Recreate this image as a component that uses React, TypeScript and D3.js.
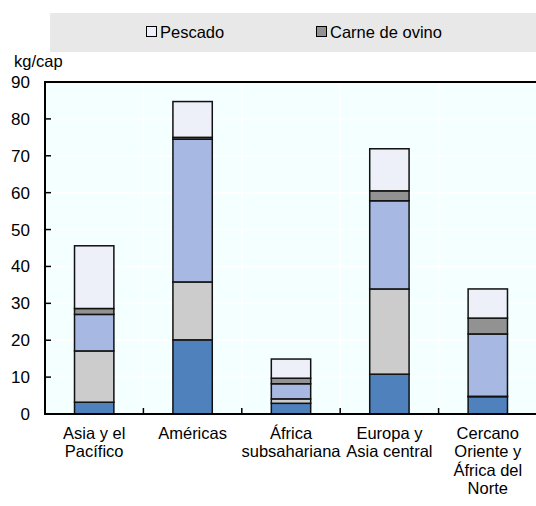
import React from 'react';
import * as d3 from 'd3';

// Regions (x-axis categories), label lines split for wrapping
const regions = ['Asia y el Pacífico', 'Américas', 'África subsahariana', 'Europa y Asia central', 'Cercano Oriente y África del Norte'];
const regionLines = [
  ['Asia y el', 'Pacífico'],
  ['Américas'],
  ['África', 'subsahariana'],
  ['Europa y', 'Asia central'],
  ['Cercano', 'Oriente y', 'África del', 'Norte'],
];

// kg per capita (bottom to top)
const bovino = [3.2, 20.1, 2.9, 10.8, 4.7];
const porcino = [13.9, 15.7, 1.2, 23.1, 0.1];
const aves = [9.9, 38.7, 4.1, 23.9, 16.9];
const ovino = [1.6, 0.5, 1.5, 2.7, 4.3];
const pescado = [17.0, 9.7, 5.2, 11.4, 7.9];

const seriesNames = ['Carne de bovino', 'Carne de porcino', 'Carne de aves', 'Carne de ovino', 'Pescado'];
const seriesColors = ['#4f81bd', '#cccccc', '#a7b9e2', '#929292', '#edf0f8'];
const legendItems = ['Pescado', 'Carne de ovino'];

const yTicks = [0, 10, 20, 30, 40, 50, 60, 70, 80, 90];

const width = 536;
const height = 506;
const left = 45;
const right = 537;
const top = 82;
const bottom = 414;

export default function App() {
  const x = d3.scaleBand<string>().domain(regions).range([left, right]).padding(0);
  const y = d3.scaleLinear().domain([0, 90]).range([bottom, top]);

  const rows = regions.map((r, i) => ({
    region: r,
    [seriesNames[0]]: bovino[i],
    [seriesNames[1]]: porcino[i],
    [seriesNames[2]]: aves[i],
    [seriesNames[3]]: ovino[i],
    [seriesNames[4]]: pescado[i],
  }));
  const stacked = d3.stack<any>().keys(seriesNames)(rows);

  const bw = x.bandwidth();
  const barW = bw * 0.4;
  const font = 'Liberation Sans, Arial, sans-serif';
  const fs = 16.5;

  return (
    <svg width={width} height={height} style={{ position: 'absolute', left: 0, top: 0 }} fontFamily={font}>
      {/* legend band */}
      <rect x={50} y={13} width={486} height={39} fill="#e8e8e8" />
      {legendItems.map((name, i) => {
        const lx = [146, 316][i];
        const c = seriesColors[seriesNames.indexOf(name)];
        return (
          <g key={name}>
            <rect x={lx + 0.5} y={26.5} width={10} height={10} fill={c} stroke="#000" strokeWidth={1} />
            <text x={lx + 14} y={38} fontSize={fs} fill="#000">{name}</text>
          </g>
        );
      })}

      {/* plot background */}
      <rect x={left} y={top} width={right - left} height={bottom - top} fill="#f4ffff" />
      {yTicks.slice(1, -1).map(t => (
        <line key={t} x1={left} x2={right} y1={y(t)} y2={y(t)} stroke="#fff" strokeWidth={1.5} />
      ))}
      {regions.slice(1).map(r => (
        <line key={r} x1={x(r)!} x2={x(r)!} y1={top} y2={bottom} stroke="#fff" strokeWidth={1.5} />
      ))}

      {/* bars */}
      {stacked.map((s, si) => (
        <g key={s.key}>
          {s.map((d, i) => {
            const h = y(d[0]) - y(d[1]);
            if (h < 0.2) return null;
            return (
              <rect
                key={i}
                x={x(regions[i])! + (bw - barW) / 2}
                y={y(d[1])}
                width={barW}
                height={h}
                fill={seriesColors[si]}
                stroke="#111"
                strokeWidth={1.5}
              />
            );
          })}
        </g>
      ))}

      {/* axes */}
      <line x1={left} x2={right} y1={top} y2={top} stroke="#000" strokeWidth={2} />
      <line x1={left} x2={left} y1={top - 1} y2={bottom + 1} stroke="#000" strokeWidth={2} />
      <line x1={left - 1} x2={right} y1={bottom} y2={bottom} stroke="#000" strokeWidth={2} />
      {yTicks.slice(1, -1).map(t => (
        <line key={t} x1={left} x2={left + 6} y1={y(t)} y2={y(t)} stroke="#000" strokeWidth={1.5} />
      ))}
      {regions.slice(1).map(r => (
        <line key={r} x1={x(r)!} x2={x(r)!} y1={bottom} y2={bottom - 6} stroke="#000" strokeWidth={1.5} />
      ))}

      {/* y tick labels */}
      {yTicks.map(t => (
        <text key={t} x={30} y={y(t) + 6} fontSize={fs + 0.5} textAnchor="end" fill="#000">{t}</text>
      ))}
      <text x={14} y={67} fontSize={fs} fill="#000">kg/cap</text>

      {/* x labels */}
      {regionLines.map((lines, i) => (
        <text key={i} fontSize={fs} textAnchor="middle" fill="#000">
          {lines.map((ln, j) => (
            <tspan key={j} x={x(regions[i])! + bw / 2} y={439 + j * 18.3}>{ln}</tspan>
          ))}
        </text>
      ))}
    </svg>
  );
}
